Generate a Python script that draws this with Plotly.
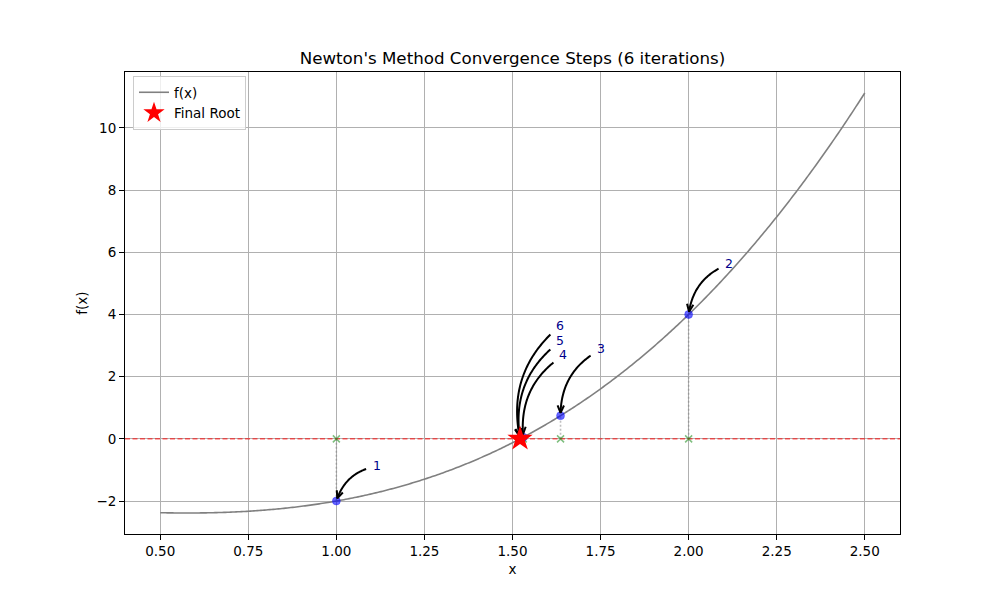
import numpy as np
import plotly.graph_objects as go

# ---------------- data ----------------
def f(x):
    return x**3 - x - 2

curve_x = np.linspace(0.5, 2.5, 400)
curve_y = f(curve_x)

iter_x = [1.0, 2.0, 1.636364, 1.530392, 1.521449, 1.521380]
iter_y = [-2.0, 4.0, 0.745304, 0.053902, 0.000413, 0.000000]
iter_labels = ["1", "2", "3", "4", "5", "6"]
root_x = 1.521380
root_y = 0.0
x_ticks = [0.5, 0.75, 1.0, 1.25, 1.5, 1.75, 2.0, 2.25, 2.5]
y_ticks = [-2, 0, 2, 4, 6, 8, 10]
title_text = "Newton's Method Convergence Steps (6 iterations)"

# ---------------- layout geometry ----------------
W, H = 1000, 600
ML, MR, MT, MB = 125, 100, 72, 66
PW, PH = W - ML - MR, H - MT - MB
span = float(curve_y.max() - curve_y.min())
XR = [0.4, 2.6]
YR = [float(curve_y.min()) - 0.05 * span, float(curve_y.max()) + 0.05 * span]
FONT = "DejaVu Sans"


def to_px(x, y):
    return (ML + (x - XR[0]) / (XR[1] - XR[0]) * PW,
            MT + (YR[1] - y) / (YR[1] - YR[0]) * PH)


def to_data(px, py):
    return (XR[0] + (px - ML) / PW * (XR[1] - XR[0]),
            YR[1] - (py - MT) / PH * (YR[1] - YR[0]))


fig = go.Figure()

fig.add_trace(go.Scatter(x=curve_x, y=curve_y, mode="lines", name="f(x)",
                         line=dict(color="gray", width=1.6, simplify=False)))

# vertical dotted lines
vx, vy = [], []
for xi, yi in zip(iter_x, iter_y):
    vx += [xi, xi, None]
    vy += [0, yi, None]
fig.add_trace(go.Scatter(x=vx, y=vy, mode="lines", showlegend=False, hoverinfo="skip",
                         line=dict(color="rgba(128,128,128,0.5)", width=1.6, dash="2px,2px")))

# horizontal zero line
fig.add_trace(go.Scatter(x=XR, y=[0, 0], mode="lines", showlegend=False,
                         hoverinfo="skip",
                         line=dict(color="rgba(255,0,0,0.9)", width=1, dash="5px,2.5px")))

# green x at axis
fig.add_trace(go.Scatter(x=iter_x, y=[0] * len(iter_x), mode="markers", showlegend=False,
                         marker=dict(symbol="x-thin", size=7,
                                     line=dict(color="rgba(0,128,0,0.5)", width=1.5))))

# blue points
fig.add_trace(go.Scatter(x=iter_x, y=iter_y, mode="markers", showlegend=False,
                         marker=dict(color="rgba(0,0,255,0.6)", size=8,
                                     line=dict(color="rgba(0,0,255,0.6)", width=0.5))))

# curved arrows (matplotlib arc3, rad=0.3 style), computed in pixel space
RAD = 0.3
FS = 12.5
ax_all, ay_all = [], []
annotations = []
for k, (xi, yi, lab) in enumerate(zip(iter_x, iter_y, iter_labels)):
    dy = 0.5 + 0.5 * (k + 1)
    tx, ty = xi + 0.1, yi + dy
    left, base = to_px(tx, ty)
    tw = 0.636 * FS * len(lab)
    A = np.array([left + tw / 2, base - 3.45])
    P = np.array(to_px(xi, yi))
    Au = np.array([A[0], H - A[1]])
    Pu = np.array([P[0], H - P[1]])
    mid = (Au + Pu) / 2
    d = Pu - Au
    Cu = np.array([mid[0] + RAD * d[1], mid[1] - RAD * d[0]])
    C = np.array([Cu[0], H - Cu[1]])
    ts = np.linspace(0, 1, 3000)
    pts = ((1 - ts)[:, None] ** 2) * A + (2 * (1 - ts) * ts)[:, None] * C + (ts[:, None] ** 2) * P
    pad = 2.8
    bx0, bx1 = left - pad, left + tw + pad
    by0, by1 = base - 0.76 * FS - pad, base + 0.21 * FS + pad
    outside = (pts[:, 0] < bx0) | (pts[:, 0] > bx1) | (pts[:, 1] < by0) | (pts[:, 1] > by1)
    i_exit = int(np.argmax(outside))
    seg = np.sqrt((np.diff(pts, axis=0) ** 2).sum(axis=1))
    cum = np.concatenate([[0], np.cumsum(seg)])
    i0 = int(np.searchsorted(cum, cum[i_exit] + 2.8))
    i1 = int(np.searchsorted(cum, cum[-1] - 2.8))
    sel = pts[i0:i1 + 1:40]
    sel = np.vstack([sel, pts[i1]])
    for px, py in sel:
        dx_, dy_ = to_data(px, py)
        ax_all.append(dx_)
        ay_all.append(dy_)
    ax_all.append(None)
    ay_all.append(None)
    t1 = ts[i1]
    tang = 2 * (1 - t1) * (C - A) + 2 * t1 * (P - C)
    tang = tang / np.linalg.norm(tang)
    nrm = np.array([-tang[1], tang[0]])
    E = pts[i1]
    HL, HW = 7.5, 3.2
    w1 = E - HL * tang + HW * nrm
    w2 = E - HL * tang - HW * nrm
    for q in (w1, E, w2):
        dx_, dy_ = to_data(q[0], q[1])
        ax_all.append(dx_)
        ay_all.append(dy_)
    ax_all.append(None)
    ay_all.append(None)
    annotations.append(dict(x=tx, y=ty, xref="x", yref="y", text=lab, showarrow=False,
                            xanchor="left", yanchor="middle", xshift=-1, yshift=4.6,
                            font=dict(family=FONT, size=FS, color="darkblue")))

fig.add_trace(go.Scatter(x=ax_all, y=ay_all, mode="lines", showlegend=False, hoverinfo="skip",
                         line=dict(color="black", width=2, simplify=False)))

# final root star
fig.add_trace(go.Scatter(x=[root_x], y=[root_y], mode="markers", name="Final Root",
                         marker=dict(symbol="star", size=19, color="red",
                                     line=dict(color="red", width=0))))

axis_common = dict(showline=True, linecolor="black", linewidth=1, mirror=True,
                   ticks="outside", ticklen=5, tickwidth=1, tickcolor="black",
                   showgrid=True, gridcolor="#b0b0b0", gridwidth=0.8, zeroline=False,
                   tickfont=dict(family=FONT, size=13.5, color="black"))

fig.update_layout(
    width=W, height=H,
    margin=dict(l=ML, r=MR, t=MT, b=MB),
    paper_bgcolor="white", plot_bgcolor="white",
    font=dict(family=FONT, color="black"),
    title=dict(text=title_text, x=0.5, xref="paper", xanchor="center",
               y=1 - 58 / H, yref="container", yanchor="middle",
               font=dict(family=FONT, size=16.7, color="black")),
    xaxis=dict(range=XR, tickvals=x_ticks, tickformat=".2f",
               title=dict(text="x", standoff=6, font=dict(family=FONT, size=13.5)),
               **axis_common),
    yaxis=dict(range=YR, tickvals=y_ticks,
               title=dict(text="f(x)", standoff=5, font=dict(family=FONT, size=13.5)),
               **axis_common),
    legend=dict(x=8 / PW, y=1 - 4 / PH, xanchor="left", yanchor="top",
                bgcolor="rgba(255,255,255,0.8)", bordercolor="#cccccc", borderwidth=1,
                font=dict(family=FONT, size=13.5, color="black"), tracegroupgap=0,
                itemwidth=30),
    annotations=annotations,
    showlegend=True,
)

fig.write_html("out.html", config={"displayModeBar": False},
               post_script="document.body.style.margin='0';document.body.style.padding='0';")
